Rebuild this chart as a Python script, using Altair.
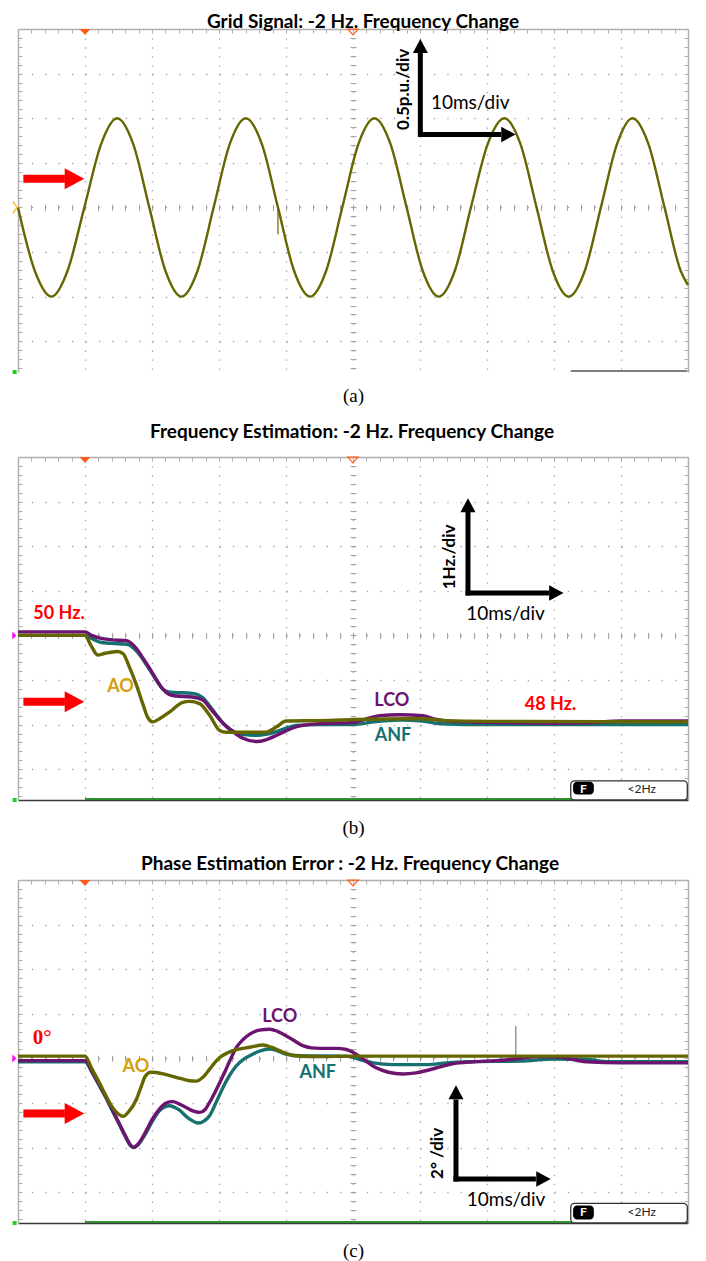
import altair as alt
import pandas as pd

# ---------------- data read from the three oscilloscope screens ----------------
# time in ms from the left edge of the screen (10 ms/div, 10 divisions)

# (a) grid signal, p.u.
grid_t = [0.0, 2.5, 5.0, 7.4, 9.9, 12.4, 14.8, 17.2, 19.6, 22.0, 24.4, 26.8, 29.2, 31.6,
          34.0, 36.4, 38.8, 41.2, 43.6, 46.0, 48.4, 50.8, 53.2, 55.6, 58.0, 60.4, 62.8,
          65.2, 67.6, 70.1, 72.6, 75.0, 77.4, 79.8, 82.2, 84.6, 87.0, 89.4, 91.7, 94.1,
          96.5, 98.9, 100.0]
grid_v = [0.0, -0.71, -1.0, -0.71, 0.0, 0.71, 1.0, 0.71, 0.0, -0.71, -1.0, -0.71, 0.0, 0.71,
          1.0, 0.71, 0.0, -0.71, -1.0, -0.71, 0.0, 0.71, 1.0, 0.71, 0.0, -0.71, -1.0,
          -0.71, 0.0, 0.71, 1.0, 0.71, 0.0, -0.71, -1.0, -0.71, 0.0, 0.71, 1.0, 0.71,
          0.0, -0.71, -0.87]

# (b) frequency estimation, Hz
ao_f_t = [0, 10.0, 10.8, 11.9, 13.0, 14.9, 15.7, 16.6, 17.7, 18.7, 19.4, 20.1, 21.0, 22.6,
          24.6, 25.6, 27.1, 28.6, 30.1, 31.1, 37.0, 38.6, 40.0, 45.0, 52.0, 60.0, 64.0,
          75.0, 100.0]
ao_f_v = [50.0, 50.0, 49.8, 49.56, 49.6, 49.64, 49.59, 49.3, 48.88, 48.43, 48.15, 48.06,
          48.12, 48.28, 48.5, 48.52, 48.47, 48.21, 47.87, 47.83, 47.83, 47.95, 48.08, 48.09,
          48.12, 48.13, 48.09, 48.07, 48.06]
lco_f_t = [0, 10.0, 11.0, 12.2, 14.0, 16.2, 17.7, 18.7, 19.7, 20.7, 21.6, 22.5, 23.5, 26.0,
           27.6, 28.6, 29.6, 30.6, 31.6, 33.5, 35.6, 37.0, 38.6, 40.0, 41.5, 45.0, 50.0,
           52.5, 54.0, 57.0, 60.4, 62.0, 63.4, 70.0, 80.0, 85.0, 90.0, 100.0]
lco_f_v = [50.08, 50.08, 50.0, 49.94, 49.9, 49.88, 49.7, 49.48, 49.25, 49.0, 48.8, 48.68,
           48.64, 48.62, 48.55, 48.38, 48.2, 48.03, 47.9, 47.7, 47.62, 47.66, 47.76, 47.86,
           47.95, 48.02, 48.05, 48.15, 48.2, 48.22, 48.2, 48.13, 48.09, 48.05, 48.03, 48.04,
           48.08, 48.08]
anf_f_t = [0, 10.0, 11.0, 12.2, 14.0, 16.2, 17.7, 18.7, 19.7, 20.7, 21.6, 22.5, 23.5, 26.0,
           27.6, 28.6, 29.6, 30.6, 31.6, 33.5, 35.6, 37.0, 38.6, 40.0, 41.5, 45.0, 50.0,
           53.0, 57.0, 60.4, 63.0, 70.0, 100.0]
anf_f_v = [50.0, 50.0, 49.93, 49.85, 49.82, 49.8, 49.65, 49.45, 49.22, 48.98, 48.8, 48.73,
           48.72, 48.7, 48.6, 48.42, 48.22, 48.03, 47.9, 47.78, 47.76, 47.78, 47.84, 47.92,
           47.98, 48.0, 48.0, 48.06, 48.1, 48.08, 48.02, 48.0, 48.0]

# (c) phase estimation error, degrees
ao_p_t = [0, 10.0, 11.0, 12.0, 13.0, 14.0, 15.0, 15.7, 16.5, 17.7, 18.4, 19.0, 19.8, 20.6,
          22.0, 23.6, 25.6, 26.6, 27.6, 28.6, 29.4, 30.1, 31.3, 32.6, 34.6, 36.6, 37.9,
          39.5, 41.3, 45.0, 50.0, 100.0]
ao_p_v = [0.1, 0.1, -0.45, -1.0, -1.6, -2.15, -2.5, -2.6, -2.4, -1.82, -1.25, -0.8, -0.62,
          -0.63, -0.72, -0.85, -1.0, -1.02, -0.85, -0.48, -0.18, 0.04, 0.25, 0.39, 0.5, 0.6,
          0.49, 0.28, 0.12, 0.08, 0.1, 0.1]
lco_p_t = [0, 10.0, 11.0, 12.0, 13.0, 14.0, 15.0, 16.0, 16.7, 17.2, 17.9, 19.0, 20.0, 21.1,
           22.1, 23.1, 24.1, 25.1, 26.1, 27.1, 27.9, 28.6, 29.6, 30.6, 31.6, 32.6, 33.6,
           34.6, 36.0, 37.6, 38.8, 40.0, 41.2, 42.5, 43.8, 45.0, 47.5, 49.0, 50.0, 51.6,
           53.3, 55.3, 57.4, 59.4, 61.3, 63.0, 64.7, 68.0, 71.4, 75.0, 78.0, 81.0, 84.8,
           90.0, 100.0]
lco_p_v = [-0.1, -0.1, -0.55, -1.1, -1.65, -2.25, -2.85, -3.45, -3.85, -3.99, -3.85, -3.32,
           -2.75, -2.27, -2.0, -1.94, -2.05, -2.2, -2.35, -2.42, -2.3, -1.97, -1.4, -0.78,
           -0.12, 0.49, 0.85, 1.09, 1.27, 1.31, 1.2, 1.02, 0.8, 0.57, 0.47, 0.45, 0.45, 0.4,
           0.27, -0.05, -0.4, -0.62, -0.7, -0.65, -0.52, -0.38, -0.25, -0.15, -0.1, 0.0,
           0.08, 0.05, -0.15, -0.2, -0.2]
anf_p_t = [0, 10.0, 11.0, 12.0, 13.0, 14.0, 15.0, 16.0, 16.7, 17.2, 17.9, 19.0, 20.0, 21.1,
           22.6, 24.0, 25.5, 26.9, 27.8, 28.6, 29.6, 30.6, 31.6, 32.6, 33.6, 34.6, 36.0,
           37.6, 38.8, 40.0, 42.0, 49.0, 51.0, 53.0, 56.0, 61.0, 64.0, 67.0, 75.0, 80.0,
           85.0, 88.0, 100.0]
anf_p_v = [-0.15, -0.15, -0.6, -1.15, -1.7, -2.3, -2.9, -3.5, -3.88, -4.0, -3.88, -3.4,
           -2.85, -2.35, -2.12, -2.3, -2.7, -2.9, -2.8, -2.57, -1.95, -1.3, -0.75, -0.33,
           -0.05, 0.12, 0.32, 0.42, 0.33, 0.19, 0.12, 0.1, -0.05, -0.2, -0.28, -0.28, -0.2,
           -0.15, -0.12, -0.03, -0.05, -0.15, -0.15]

titles = ["Grid Signal: -2 Hz. Frequency Change",
          "Frequency Estimation: -2 Hz. Frequency Change",
          "Phase Estimation Error : -2 Hz. Frequency Change"]
captions = ["(a)", "(b)", "(c)"]

# ---------------- style ----------------
W, H = 670, 343
DIV_PX = 44.6
BELOW = H / DIV_PX - 4.0

FRAME = "#b0b0b0"
GRIDC = "#a4a4a4"
OLIVE = "#666600"
PURPLE = "#6c1470"
TEAL = "#15706e"
GOLD = "#d4a00c"
RED = "#ff0000"
ORANGE = "#ff5b1e"
FONT = "Lato"
TITLE_SIZE = 19

TRI_UP = "M -1 0.93 L 0 -0.93 L 1 0.93 Z"
TRI_RIGHT = "M -0.93 -1 L 0.93 0 L -0.93 1 Z"
TRI_DOWN = "M -1 -0.55 L 1 -0.55 L 0 0.55 Z"
CHEV = "M -0.35 -1 L 0.35 0 L -0.35 1"
SMALL_TRI = "M -0.5 -1 L 0.5 0 L -0.5 1 Z"


class Panel:
    def __init__(self, center, per_div):
        self.center = center
        self.per_div = per_div
        self.lo = center - per_div * BELOW
        self.hi = center + 4 * per_div
        self.xs = alt.Scale(domain=[0, 100], nice=False, zero=False)
        self.ys = alt.Scale(domain=[self.lo, self.hi], nice=False, zero=False)
        self.layers = []

    def x(self, axis=None):
        return alt.X("t:Q", scale=self.xs, axis=axis)

    def y(self, axis=None):
        return alt.Y("v:Q", scale=self.ys, axis=axis)

    def add(self, c):
        self.layers.append(c)

    # ---- oscilloscope graticule ----
    def graticule(self, caption, cap_pad, bottom_domain):
        d = pd.DataFrame({"t": [0.0], "v": [self.center]})
        base = alt.Chart(d).mark_point(opacity=0)
        xgrid = [10 * i for i in range(1, 10)]
        xminor = [2 * i for i in range(0, 51)]
        ygrid = [self.center + self.per_div * k for k in range(-3, 4)]
        kmin = -int(BELOW * 5)
        yminor = [self.center + self.per_div * k / 5 for k in range(kmin, 21)]
        no = dict(labels=False, title=None)
        ax_bottom = alt.Axis(orient="bottom", values=xgrid, grid=True, gridColor=GRIDC,
                             gridWidth=1.3, gridDash=[1.3, 7.62], ticks=False, labels=False,
                             domain=bottom_domain, domainColor="#3a3a3a", domainWidth=1.5,
                             title=caption, titleFont="Liberation Serif", titleFontSize=19,
                             titleFontWeight="normal", titleColor="black",
                             titlePadding=cap_pad)
        ax_left = alt.Axis(orient="left", values=ygrid, grid=True, gridColor=GRIDC,
                           gridWidth=1.3, gridDash=[1.3, 12.1], ticks=False, domain=True,
                           domainColor=FRAME, domainWidth=1.5, **no)
        ax_top = alt.Axis(orient="top", domain=True, domainColor=FRAME, domainWidth=1.5,
                          ticks=False, grid=False, **no)
        ax_right = alt.Axis(orient="right", domain=True, domainColor=FRAME, domainWidth=1.5,
                            ticks=False, grid=False, **no)
        ax_top_t = alt.Axis(orient="top", offset=-4, domain=False, ticks=True, tickSize=4,
                            tickColor=FRAME, values=xminor, grid=False, **no)
        ax_left_t = alt.Axis(orient="left", offset=-4, domain=False, ticks=True, tickSize=4,
                             tickColor=FRAME, values=yminor, grid=False, **no)
        ax_right_t = alt.Axis(orient="right", offset=-4, domain=False, ticks=True, tickSize=4,
                              tickColor=FRAME, values=yminor, grid=False, **no)
        ax_cx = alt.Axis(orient="bottom", offset=-(BELOW * DIV_PX + 3), domain=False,
                         ticks=True, tickSize=6, tickColor=GRIDC, values=xminor, grid=False, **no)
        ax_cy = alt.Axis(orient="left", offset=-(W / 2 + 3), domain=False, ticks=True,
                         tickSize=6, tickColor=GRIDC, values=yminor, grid=False, **no)
        self.add(base.encode(x=self.x(ax_bottom), y=self.y(ax_left)))
        self.add(base.encode(x=self.x(ax_top), y=self.y(ax_right)))
        self.add(base.encode(x=self.x(ax_top_t), y=self.y(ax_left_t)))
        self.add(base.encode(x=self.x(ax_cx), y=self.y(ax_right_t)))
        self.add(base.encode(x=self.x(), y=self.y(ax_cy)))

    def trace(self, ts, vs, color, width=3.4):
        d = pd.DataFrame({"t": ts, "v": vs})
        self.add(alt.Chart(d).mark_line(color=color, strokeWidth=width,
                                        interpolate="monotone").encode(x=self.x(), y=self.y()))

    def hrule(self, t, t2, v, **kw):
        d = pd.DataFrame({"t": [t], "t2": [t2], "v": [v]})
        self.add(alt.Chart(d).mark_rule(**kw).encode(x=self.x(), x2=alt.X2("t2"), y=self.y()))

    def vrule(self, t, v, v2, **kw):
        d = pd.DataFrame({"t": [t], "v": [v], "v2": [v2]})
        self.add(alt.Chart(d).mark_rule(**kw).encode(x=self.x(), y=self.y(), y2=alt.Y2("v2")))

    def point(self, t, v, **kw):
        d = pd.DataFrame({"t": [t], "v": [v]})
        self.add(alt.Chart(d).mark_point(opacity=1, **kw).encode(x=self.x(), y=self.y()))

    def text(self, t, v, s, **kw):
        d = pd.DataFrame({"t": [t], "v": [v], "s": [s]})
        self.add(alt.Chart(d).mark_text(**kw).encode(x=self.x(), y=self.y(), text="s:N"))

    def rect(self, t, t2, v, v2, **kw):
        d = pd.DataFrame({"t": [t], "t2": [t2], "v": [v], "v2": [v2]})
        self.add(alt.Chart(d).mark_rect(**kw).encode(x=self.x(), x2=alt.X2("t2"),
                                                     y=self.y(), y2=alt.Y2("v2")))

    def px(self, n):  # n pixels expressed in data units of the y scale
        return n / DIV_PX * self.per_div

    def red_arrow(self, v):
        self.hrule(0.8, 7.0, v, color=RED, strokeWidth=8)
        self.point(8.43, v, shape=TRI_RIGHT, size=441, filled=True, color=RED)

    def scale_arrow(self, tv, vb, vbase, vhead, vh, t0, tbase, thead):
        self.vrule(tv, vb, vbase, color="black", strokeWidth=5)
        self.point(tv, vhead, shape=TRI_UP, size=225, filled=True, color="black")
        self.hrule(t0, tbase, vh, color="black", strokeWidth=5)
        self.point(thead, vh, shape=TRI_RIGHT, size=240, filled=True, color="black")

    def top_marks(self):
        vm = self.hi - self.px(3)
        self.point(10, vm, shape=TRI_DOWN, size=121, filled=True, color=ORANGE)
        self.point(50, vm, shape=TRI_DOWN, size=110, filled=False, color=ORANGE,
                   strokeWidth=1.2)

    def status_box(self, vtop, vbadge_top, vbadge_bot, vmid):
        self.rect(82.5, 99.9, vtop, self.lo, fill="white", stroke="#333333",
                  strokeWidth=1.3, cornerRadius=4)
        self.rect(82.85, 85.95, vbadge_top, vbadge_bot, fill="black", cornerRadius=4)
        self.text(84.4, vmid, "F", font=FONT, fontSize=12, fontWeight="bold", color="white")
        self.text(93.1, vmid, "<2Hz", font=FONT, fontSize=12, color="#222222")

    def chart(self, title, offset, dx):
        return alt.layer(*self.layers).properties(
            width=W, height=H,
            title=alt.TitleParams(title, font=FONT, fontSize=TITLE_SIZE, fontWeight="bold",
                                  color="black", anchor="middle", offset=offset, dx=dx),
        ).resolve_axis(x="independent", y="independent")


bold = dict(font=FONT, fontWeight="bold")

# ---------------- panel (a) ----------------
pa = Panel(0.0, 0.5)
pa.graticule(captions[0], 14, False)
pa.trace(grid_t, grid_v, OLIVE, 2.4)
pa.vrule(38.8, -0.02, -0.3, color=OLIVE, strokeWidth=1.2)
pa.hrule(82.5, 99.9, pa.lo + pa.px(1), color="#555555", strokeWidth=1.5)
pa.top_marks()
pa.point(-0.45, 0.0, shape=CHEV, size=144, filled=False, color="#f2c230", strokeWidth=1.5)
pa.point(-0.5, pa.lo, shape="square", size=16, filled=True, color="#22cc22")
pa.red_arrow(0.32)
pa.scale_arrow(60.05, 0.79, 1.738, 1.81, 0.818, 59.7, 72.1, 73.2)
pa.text(57.6, 1.323, "0.5p.u./div", angle=270, fontSize=17, color="black", **bold)
pa.text(67.5, 1.174, "10ms/div", font=FONT, fontSize=19, color="black")
chart_a = pa.chart(titles[0], -5.5, 10)

# ---------------- panel (b) ----------------
pb = Panel(50.0, 1.0)
pb.graticule(captions[1], 18.2, True)
pb.hrule(10, 100, pb.lo + pb.px(1), color="#2f8f2f", strokeWidth=2)
pb.trace(anf_f_t, anf_f_v, TEAL)
pb.trace(lco_f_t, lco_f_v, PURPLE)
pb.trace(ao_f_t, ao_f_v, OLIVE)
pb.top_marks()
pb.point(-0.55, 50.0, shape=SMALL_TRI, size=64, filled=True, color="#ff00ff")
pb.point(-0.5, pb.lo, shape="square", size=16, filled=True, color="#22cc22")
pb.red_arrow(48.51)
pb.scale_arrow(67.16, 50.895, 52.767, 52.92, 50.95, 66.8, 79.25, 80.35)
pb.text(64.43, 51.76, "1Hz./div", angle=270, fontSize=17, color="black", **bold)
pb.text(72.76, 50.487, "10ms/div", font=FONT, fontSize=19, color="black")
pb.text(6.12, 50.487, "50 Hz.", fontSize=18, color=RED, **bold)
pb.text(79.48, 48.446, "48 Hz.", fontSize=18, color=RED, **bold)
pb.text(15.3, 48.84, "AO", fontSize=18, color=GOLD, **bold)
pb.text(55.8, 48.525, "LCO", fontSize=18, color=PURPLE, **bold)
pb.text(55.97, 47.75, "ANF", fontSize=18, color=TEAL, **bold)
pb.status_box(46.74, 46.72, 46.43, 46.565)
chart_b = pb.chart(titles[1], 12.75, -1)

# ---------------- panel (c) ----------------
pc = Panel(0.0, 2.0)
pc.graticule(captions[2], 18.5, True)
pc.hrule(10, 100, pc.lo + pc.px(1), color="#2f8f2f", strokeWidth=2)
pc.vrule(74.3, 0.0, 1.45, color="#5d8a8a", strokeWidth=1.2)
pc.trace(anf_p_t, anf_p_v, TEAL)
pc.trace(lco_p_t, lco_p_v, PURPLE)
pc.trace(ao_p_t, ao_p_v, OLIVE)
pc.top_marks()
pc.point(-0.55, 0.0, shape=SMALL_TRI, size=64, filled=True, color="#ff00ff")
pc.point(-0.5, pc.lo, shape="square", size=16, filled=True, color="#22cc22")
pc.red_arrow(-2.47)
pc.scale_arrow(65.37, -5.52, -1.84, -1.52, -5.41, 65.0, 77.3, 78.43)
pc.text(62.7, -4.26, "2° /div", angle=270, fontSize=17, color="black", **bold)
pc.text(72.84, -6.35, "10ms/div", font=FONT, fontSize=19, color="black")
pc.text(3.6, 0.9, "0°", font="Liberation Serif", fontSize=21, fontWeight="bold", color=RED)
pc.text(17.6, -0.40, "AO", fontSize=18, color=GOLD, **bold)
pc.text(39.06, 1.85, "LCO", fontSize=18, color=PURPLE, **bold)
pc.text(44.73, -0.66, "ANF", fontSize=18, color=TEAL, **bold)
pc.status_box(-6.5, -6.6, -7.22, -6.9)
chart_c = pc.chart(titles[2], 3.5, -3)

chart = alt.vconcat(chart_a, chart_b, chart_c, spacing=17).properties(
    padding={"left": 1, "top": 5, "right": 0, "bottom": 0}
).configure_view(stroke=None)

chart.save("out.html", embed_options={"renderer": "svg", "actions": False})
